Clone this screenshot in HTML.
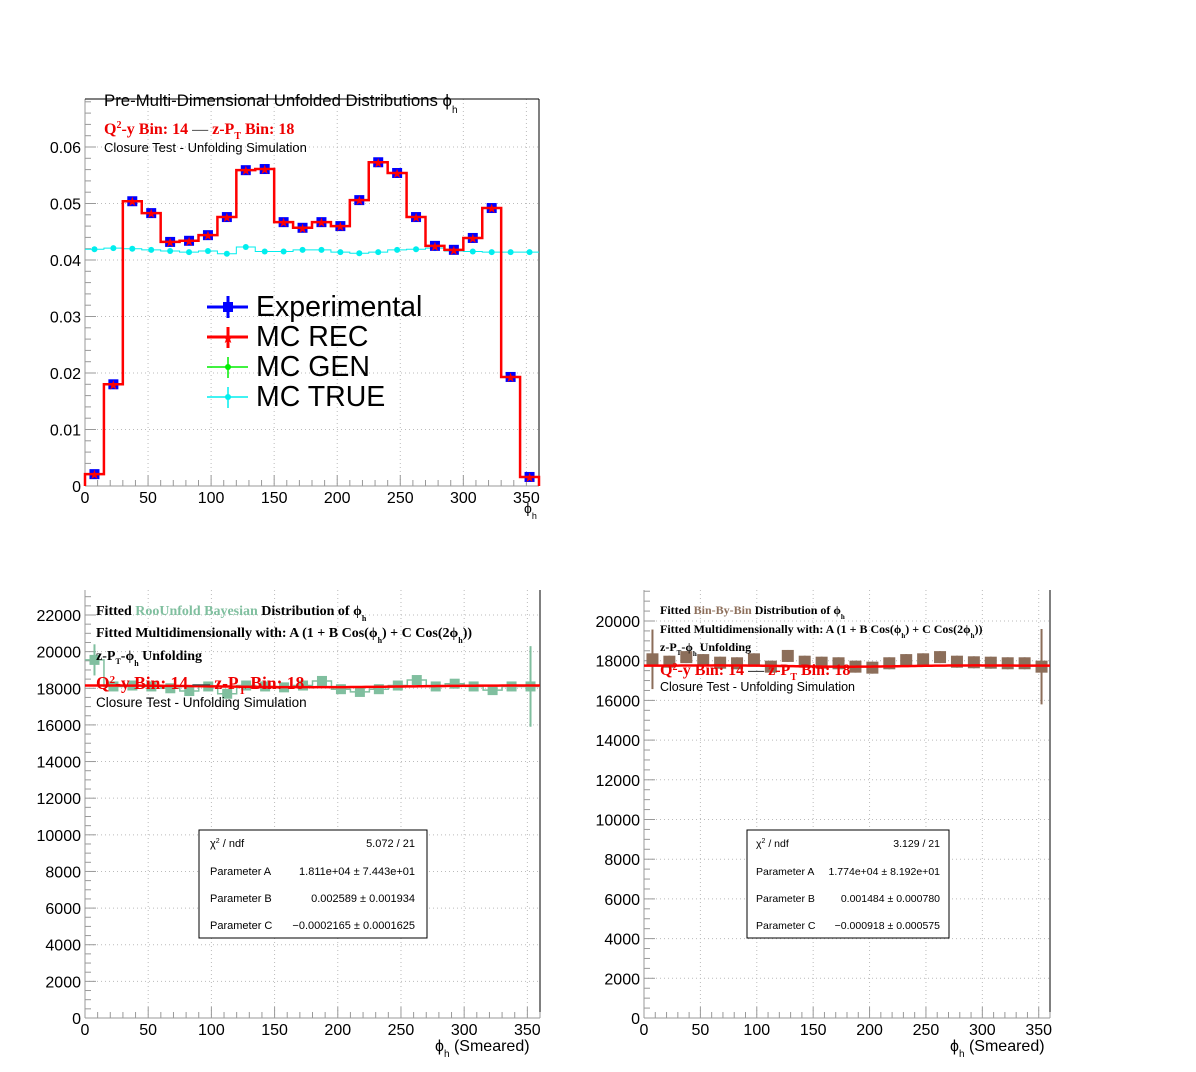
<!DOCTYPE html>
<html><head><meta charset="utf-8"><style>
body{margin:0;background:#fff;}
svg{display:block;font-family:"Liberation Sans",sans-serif;}
.ser{font-family:"Liberation Serif",serif;font-weight:bold;}
</style></head><body>
<svg id="c" width="1196" height="1072" viewBox="0 0 1196 1072" xmlns="http://www.w3.org/2000/svg">
<rect width="1196" height="1072" fill="#fff"/>
<g id="top"></g>
<g id="bl"></g>
<g id="br"></g>

<!-- top texts -->
<text x="104" y="106" font-size="16.8">Pre-Multi-Dimensional Unfolded Distributions ϕ<tspan font-size="10" dy="7">h</tspan></text>
<text x="104" y="134" font-size="16" fill="#e00" class="ser">Q<tspan font-size="10" dy="-6">2</tspan><tspan dy="6">-y Bin: 14  </tspan><tspan fill="#666">—</tspan>  z-P<tspan font-size="10" dy="5">T</tspan><tspan dy="-5"> Bin: 18</tspan></text>
<text x="104" y="152" font-size="13">Closure Test - Unfolding Simulation</text>
<text x="524" y="513" font-size="14">ϕ<tspan font-size="9" dy="6">h</tspan></text>

<!-- legend -->
<g font-size="28.5">
 <g><line x1="207" y1="307" x2="248" y2="307" stroke="#00f" stroke-width="3"/><line x1="228" y1="296" x2="228" y2="318" stroke="#00f" stroke-width="3"/><rect x="223" y="302" width="10" height="10" fill="#00f"/><text x="256" y="316">Experimental</text></g>
 <g><line x1="207" y1="337" x2="248" y2="337" stroke="#f00" stroke-width="3"/><line x1="228" y1="327" x2="228" y2="348" stroke="#f00" stroke-width="3"/><text x="228" y="343" font-size="14" fill="#f00" text-anchor="middle">★</text><text x="256" y="346">MC REC</text></g>
 <g><line x1="207" y1="367" x2="248" y2="367" stroke="#0e0" stroke-width="1.5"/><line x1="228" y1="357" x2="228" y2="378" stroke="#0e0" stroke-width="1.5"/><circle cx="228" cy="367" r="3" fill="#0e0"/><text x="256" y="376">MC GEN</text></g>
 <g><line x1="207" y1="397" x2="248" y2="397" stroke="#0ee" stroke-width="1.5"/><line x1="228" y1="387" x2="228" y2="408" stroke="#0ee" stroke-width="1.5"/><circle cx="228" cy="397" r="3" fill="#0ee"/><text x="256" y="406">MC TRUE</text></g>
</g>

<!-- bottom left texts -->
<g>
<text x="96" y="615" font-size="14" class="ser">Fitted  <tspan fill="#80bf9f">RooUnfold Bayesian</tspan> Distribution of  ϕ<tspan font-size="8" dy="6">h</tspan></text>
<text x="96" y="637" font-size="14" class="ser">Fitted Multidimensionally with: A (1 + B Cos(ϕ<tspan font-size="8" dy="6">h</tspan><tspan dy="-6">) + C Cos(2ϕ</tspan><tspan font-size="8" dy="6">h</tspan><tspan dy="-6">))</tspan></text>
<text x="96" y="660" font-size="14" class="ser">z-P<tspan font-size="8" dy="4">T</tspan><tspan dy="-4">-ϕ</tspan><tspan font-size="8" dy="6">h</tspan><tspan dy="-6"> Unfolding</tspan></text>
<text x="96" y="689" font-size="17.5" class="ser" fill="#e00">Q<tspan font-size="11" dy="-6">2</tspan><tspan dy="6">-y Bin: 14  </tspan><tspan fill="#444">—</tspan>  z-P<tspan font-size="11" dy="5">T</tspan><tspan dy="-5"> Bin: 18</tspan></text>
<text x="96" y="707" font-size="13.5">Closure Test - Unfolding Simulation</text>
<text x="435" y="1051" font-size="16">ϕ<tspan font-size="10" dy="6">h</tspan><tspan dy="-6"> (Smeared)</tspan></text>
</g>
<g font-size="11">
<rect x="199" y="830" width="228" height="108" fill="#fff" stroke="#000"/>
<text x="210" y="847">χ<tspan font-size="7" dy="-4">2</tspan><tspan dy="4"> / ndf</tspan></text><text x="415" y="847" text-anchor="end">5.072 / 21</text>
<text x="210" y="875">Parameter A</text><text x="415" y="875" text-anchor="end">1.811e+04 ± 7.443e+01</text>
<text x="210" y="902">Parameter B</text><text x="415" y="902" text-anchor="end">0.002589 ± 0.001934</text>
<text x="210" y="929">Parameter C</text><text x="415" y="929" text-anchor="end">−0.0002165 ± 0.0001625</text>
</g>

<!-- bottom right texts -->
<g>
<text x="660" y="614" font-size="12" class="ser">Fitted  <tspan fill="#8c6e5a">Bin-By-Bin</tspan> Distribution of  ϕ<tspan font-size="7" dy="5">h</tspan></text>
<text x="660" y="633" font-size="12" class="ser">Fitted Multidimensionally with: A (1 + B Cos(ϕ<tspan font-size="7" dy="5">h</tspan><tspan dy="-5">) + C Cos(2ϕ</tspan><tspan font-size="7" dy="5">h</tspan><tspan dy="-5">))</tspan></text>
<text x="660" y="651" font-size="12" class="ser">z-P<tspan font-size="7" dy="4">T</tspan><tspan dy="-4">-ϕ</tspan><tspan font-size="7" dy="5">h</tspan><tspan dy="-5"> Unfolding</tspan></text>
<text x="660" y="675" font-size="16" class="ser" fill="#e00">Q<tspan font-size="10" dy="-5">2</tspan><tspan dy="5">-y Bin: 14  </tspan><tspan fill="#444">—</tspan>  z-P<tspan font-size="10" dy="5">T</tspan><tspan dy="-5"> Bin: 18</tspan></text>
<text x="660" y="691" font-size="12.5">Closure Test - Unfolding Simulation</text>
<text x="950" y="1051" font-size="16">ϕ<tspan font-size="10" dy="6">h</tspan><tspan dy="-6"> (Smeared)</tspan></text>
</g>
<g font-size="10.5">
<rect x="747" y="830" width="202" height="108" fill="#fff" stroke="#000"/>
<text x="756" y="847">χ<tspan font-size="7" dy="-4">2</tspan><tspan dy="4"> / ndf</tspan></text><text x="940" y="847" text-anchor="end">3.129 / 21</text>
<text x="756" y="875">Parameter A</text><text x="940" y="875" text-anchor="end">1.774e+04 ± 8.192e+01</text>
<text x="756" y="902">Parameter B</text><text x="940" y="902" text-anchor="end">0.001484 ± 0.000780</text>
<text x="756" y="929">Parameter C</text><text x="940" y="929" text-anchor="end">−0.000918 ± 0.000575</text>
</g>
</svg>
<script>
// ---- data ----
const binEdgesDeg = [0,15,30,45,60,75,90,105,120,135,150,165,180,195,210,225,240,255,270,285,300,315,330,345,360];
const expValues = [0.0021,0.0180,0.0504,0.0483,0.0432,0.0434,0.0444,0.0476,0.0559,0.0561,0.0467,0.0457,0.0467,0.0460,0.0506,0.0573,0.0554,0.0476,0.0425,0.0418,0.0439,0.0492,0.0193,0.0016];
const recValues = [0.0021,0.0180,0.0504,0.0483,0.0432,0.0434,0.0444,0.0476,0.0559,0.0561,0.0467,0.0457,0.0467,0.0460,0.0506,0.0573,0.0554,0.0476,0.0425,0.0418,0.0439,0.0492,0.0193,0.0016];
const trueValues = [0.0419,0.0421,0.0420,0.0418,0.0416,0.0414,0.0416,0.0411,0.0423,0.0415,0.0415,0.0418,0.0418,0.0414,0.0412,0.0414,0.0418,0.0419,0.0421,0.0416,0.0415,0.0414,0.0414,0.0414];
const topYTicks = [0,0.01,0.02,0.03,0.04,0.05,0.06];
const topYLabels = ["0","0.01","0.02","0.03","0.04","0.05","0.06"];
const xTicks = [0,50,100,150,200,250,300,350];
const bayesValues = [19550,18100,18150,18100,18000,17850,18100,17700,18150,18100,18050,18150,18400,17950,17800,17950,18150,18450,18100,18250,18100,17900,18100,18100];
const bayesErrors = [850,220,220,220,220,220,220,220,220,220,220,220,220,220,220,220,220,220,220,220,220,220,260,2200];
const bayesFitA = 18110, bayesFitB = 0.002589, bayesFitC = -0.0002165;
const bayesYTicks = [0,2000,4000,6000,8000,10000,12000,14000,16000,18000,20000,22000];
const bbbValues = [18070,17950,18180,18030,17900,17870,18070,17700,18240,17950,17900,17870,17700,17650,17870,18030,18070,18180,17950,17920,17900,17870,17870,17700];
const bbbErrors = [1500,300,300,300,300,300,300,300,300,300,300,300,300,300,300,300,300,300,300,300,300,300,300,1900];
const bbbFitA = 17740, bbbFitB = 0.001484, bbbFitC = -0.000918;
const bbbYTicks = [0,2000,4000,6000,8000,10000,12000,14000,16000,18000,20000];

const NS = "http://www.w3.org/2000/svg";
function mk(parent, tag, attrs, txt){const e=document.createElementNS(NS,tag);for(const k in attrs)e.setAttribute(k,attrs[k]);if(txt!==undefined)e.textContent=txt;parent.appendChild(e);return e;}

function axes(g, P, yTicks, yLabels, yMinorStep, fullFrame){
  const ax = P;
  xTicks.forEach(t=>{const x=ax.x(t);mk(g,'line',{x1:x,y1:P.top,x2:x,y2:P.bot,stroke:'#bbb','stroke-dasharray':'1,3'});});
  yTicks.forEach(t=>{const y=ax.y(t);mk(g,'line',{x1:P.left,y1:y,x2:P.right,y2:y,stroke:'#bbb','stroke-dasharray':'1,3'});});
  mk(g,'line',{x1:P.left,y1:P.bot,x2:P.right,y2:P.bot,stroke:'#999'});
  mk(g,'line',{x1:P.left,y1:P.top,x2:P.left,y2:P.bot,stroke:'#999'});
  mk(g,'line',{x1:P.right,y1:P.top,x2:P.right,y2:P.bot,stroke:'#000'});
  if(fullFrame) mk(g,'line',{x1:P.left,y1:P.top,x2:P.right,y2:P.top,stroke:'#000'});
  for(let t=0;t<=360;t+=10){const x=ax.x(t);const L=(t%50===0)?11:6;mk(g,'line',{x1:x,y1:P.bot,x2:x,y2:P.bot-L,stroke:'#999'});}
  const ymax=ax.yv(P.top);
  for(let v=0;v<=ymax;v+=yMinorStep){const y=ax.y(v);const major=yTicks.some(t=>Math.abs(t-v)<yMinorStep/10);mk(g,'line',{x1:P.left,y1:y,x2:P.left+(major?11:6),y2:y,stroke:'#999'});}
  xTicks.forEach(t=>{const tx=mk(g,'text',{x:ax.x(t),y:P.bot+17,'font-size':16,'text-anchor':'middle'},String(t));
    
    });
  yTicks.forEach((t,i)=>{const tx=mk(g,'text',{x:P.left-4,y:ax.y(t)+6,'font-size':16,'text-anchor':'end'},yLabels[i]);
    
    });
}
function makeP(left,right,top,bot,x360,y0px,yRefVal,yRefPx){
  const s=(y0px-yRefPx)/yRefVal;
  return {left,right,top,bot,x:v=>left+v*(x360-left)/360,y:v=>y0px-v*s,yv:p=>(y0px-p)/s};
}
function stepPath(P,vals){let d='';vals.forEach((v,i)=>{const x0=P.x(binEdgesDeg[i]),x1=P.x(binEdgesDeg[i+1]),y=P.y(v);d+=(i===0?'M'+x0+','+P.y(0)+'L'+x0+','+y:'L'+x0+','+y)+'L'+x1+','+y;});return d;}

(function(){
  const g=document.getElementById('top');
  const P=makeP(85,539,99,486,539,486,0.06,147);
  axes(g,P,topYTicks,topYLabels,0.002,true);
  const pt=mk(g,'path',{d:stepPath(P,trueValues).replace(/^M[^L]*L/,'M'),fill:'none',stroke:'#0ee','stroke-width':1});
  
  
  trueValues.forEach((v,i)=>{const c=mk(g,'circle',{cx:P.x((binEdgesDeg[i]+binEdgesDeg[i+1])/2),cy:P.y(v),r:3,fill:'#0ee'});
    
    });
  expValues.forEach((v,i)=>{const cx=P.x((binEdgesDeg[i]+binEdgesDeg[i+1])/2);const r=mk(g,'rect',{x:cx-5,y:P.y(v)-5,width:10,height:10,fill:'#00f'});
    
    });
  const pr=mk(g,'path',{d:stepPath(P,recValues)+'L'+P.x(360)+','+P.y(0),fill:'none',stroke:'#f00','stroke-width':2.5});
  
  
  recValues.forEach((v,i)=>{const cx=P.x((binEdgesDeg[i]+binEdgesDeg[i+1])/2);const t=mk(g,'text',{x:cx,y:P.y(v)+5,'font-size':13,fill:'#f00','text-anchor':'middle'},'★');
    
    });
})();

function fitLine(g,P,A,B,C){let d='';for(let t=0;t<=360;t+=3){const r=t*Math.PI/180;const v=A*(1+B*Math.cos(r)+C*Math.cos(2*r));d+=(t?'L':'M')+P.x(t)+','+P.y(v);}
  const p=mk(g,'path',{d:d,fill:'none',stroke:'#f00','stroke-width':2.5});
  
  }

(function(){
  const g=document.getElementById('bl');
  const P=makeP(85,540,590,1018,540,1018,22000,615);
  axes(g,P,bayesYTicks,bayesYTicks.map(String),500,false);
  const col='#80bf9f';
  const sp=mk(g,'path',{d:stepPath(P,bayesValues).replace(/^M[^L]*L/,'M'),fill:'none',stroke:col,'stroke-width':1.5});
  
  
  bayesValues.forEach((v,i)=>{const cx=P.x((binEdgesDeg[i]+binEdgesDeg[i+1])/2),y=P.y(v);
    const e=mk(g,'line',{x1:cx,y1:P.y(v+bayesErrors[i]),x2:cx,y2:P.y(v-bayesErrors[i]),stroke:col,'stroke-width':2});
    
    
    const r=mk(g,'rect',{x:cx-5,y:y-5,width:10,height:10,fill:col});
    
    });
  fitLine(g,P,bayesFitA,bayesFitB,bayesFitC);
})();

(function(){
  const g=document.getElementById('br');
  const P=makeP(644,1050,590,1018,1050,1018,20000,621);
  axes(g,P,bbbYTicks,bbbYTicks.map(String),500,false);
  const col='#8c6e5a';
  bbbValues.forEach((v,i)=>{const cx=P.x((binEdgesDeg[i]+binEdgesDeg[i+1])/2),y=P.y(v);
    const e=mk(g,'line',{x1:cx,y1:P.y(v+bbbErrors[i]),x2:cx,y2:P.y(v-bbbErrors[i]),stroke:col,'stroke-width':2});
    
    
    const r=mk(g,'rect',{x:cx-6,y:y-6,width:12,height:12,fill:col});
    
    });
  fitLine(g,P,bbbFitA,bbbFitB,bbbFitC);
})();
</script>
</body></html>
